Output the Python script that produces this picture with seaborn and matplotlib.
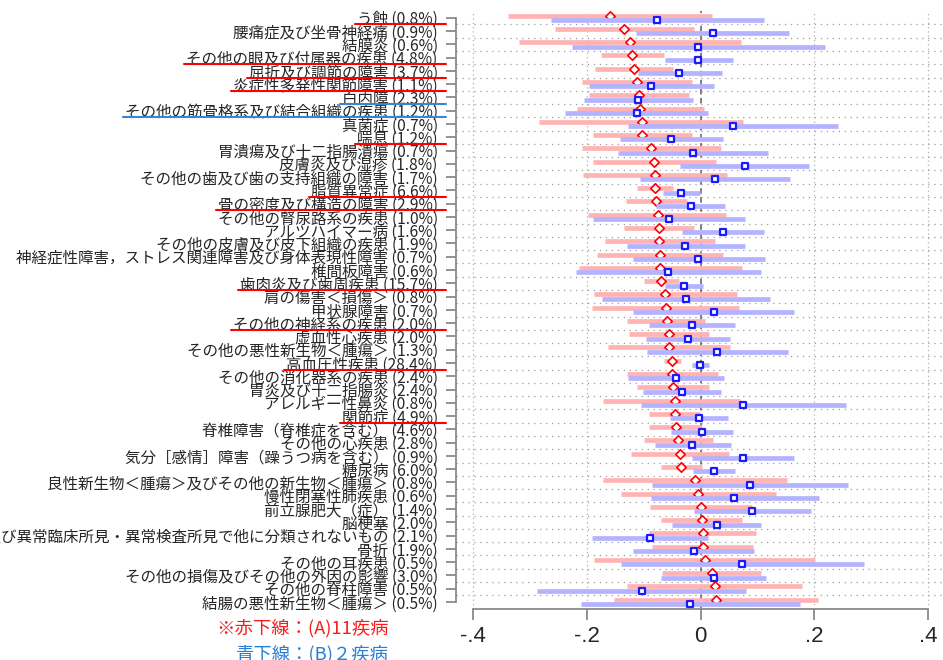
import numpy as np
import pandas as pd
import matplotlib
matplotlib.use("Agg")
import matplotlib.pyplot as plt
import seaborn as sns
from matplotlib.lines import Line2D

# 疾病名と割合
labels = ["う蝕", "腰痛症及び坐骨神経痛", "結膜炎", "その他の眼及び付属器の疾患", "屈折及び調節の障害",
          "炎症性多発性関節障害", "白内障", "その他の筋骨格系及び結合組織の疾患", "真菌症", "喘息",
          "胃潰瘍及び十二指腸潰瘍", "皮膚炎及び湿疹", "その他の歯及び歯の支持組織の障害", "脂質異常症",
          "骨の密度及び構造の障害", "その他の腎尿路系の疾患", "アルツハイマー病", "その他の皮膚及び皮下組織の疾患",
          "神経症性障害，ストレス関連障害及び身体表現性障害", "椎間板障害", "歯肉炎及び歯周疾患",
          "肩の傷害＜損傷＞", "甲状腺障害", "その他の神経系の疾患", "虚血性心疾患", "その他の悪性新生物＜腫瘍＞",
          "高血圧性疾患", "その他の消化器系の疾患", "胃炎及び十二指腸炎", "アレルギー性鼻炎", "関節症",
          "脊椎障害（脊椎症を含む）", "その他の心疾患", "気分［感情］障害（躁うつ病を含む）", "糖尿病",
          "良性新生物＜腫瘍＞及びその他の新生物＜腫瘍＞", "慢性閉塞性肺疾患", "前立腺肥大（症）", "脳梗塞",
          "症状，徴候及び異常臨床所見・異常検査所見で他に分類されないもの", "骨折", "その他の耳疾患",
          "その他の損傷及びその他の外因の影響", "その他の脊柱障害", "結腸の悪性新生物＜腫瘍＞"]
shares = ["0.8%", "0.9%", "0.6%", "4.8%", "3.7%", "1.1%", "2.3%", "1.2%", "0.7%", "1.2%",
          "0.7%", "1.8%", "1.7%", "6.6%", "2.9%", "1.0%", "1.6%", "1.9%", "0.7%", "0.6%",
          "15.7%", "0.8%", "0.7%", "2.0%", "2.0%", "1.3%", "28.4%", "2.4%", "2.4%", "0.8%",
          "4.9%", "4.6%", "2.8%", "0.9%", "6.0%", "0.8%", "0.6%", "1.4%", "2.0%", "2.1%",
          "1.9%", "0.5%", "3.0%", "0.5%", "0.5%"]

# (A) 赤
red_pt = [-0.159, -0.135, -0.124, -0.121, -0.117, -0.112, -0.108, -0.106, -0.104, -0.103,
          -0.088, -0.082, -0.081, -0.081, -0.079, -0.076, -0.074, -0.073, -0.072, -0.072,
          -0.070, -0.062, -0.061, -0.060, -0.056, -0.056, -0.050, -0.050, -0.049, -0.046,
          -0.045, -0.043, -0.040, -0.036, -0.035, -0.010, -0.005, 0.000, 0.002, 0.004,
          0.004, 0.007, 0.019, 0.025, 0.026]
red_lo = [-0.339, -0.256, -0.319, -0.175, -0.186, -0.209, -0.196, -0.217, -0.284, -0.189,
          -0.209, -0.189, -0.207, -0.112, -0.131, -0.198, -0.135, -0.168, -0.182, -0.214,
          -0.100, -0.187, -0.191, -0.129, -0.126, -0.163, -0.064, -0.129, -0.112, -0.172,
          -0.091, -0.091, -0.100, -0.122, -0.070, -0.172, -0.140, -0.089, -0.070, -0.091,
          -0.086, -0.187, -0.068, -0.129, -0.152]
red_hi = [0.019, -0.012, 0.071, -0.064, -0.049, -0.015, -0.021, 0.006, 0.074, -0.015,
          0.036, 0.027, 0.046, -0.049, -0.024, 0.045, -0.012, 0.025, 0.039, 0.073,
          -0.038, 0.064, 0.067, 0.008, 0.015, 0.052, -0.035, 0.031, 0.015, 0.069,
          -0.001, 0.002, 0.022, 0.050, 0.002, 0.152, 0.132, 0.090, 0.073, 0.097,
          0.092, 0.201, 0.106, 0.178, 0.206]

# (B) 青
blue_pt = [-0.077, 0.021, -0.005, -0.004, -0.038, -0.087, -0.110, -0.112, 0.056, -0.052,
           -0.014, 0.078, 0.025, -0.035, -0.018, -0.056, 0.039, -0.027, -0.004, -0.057,
           -0.029, -0.026, 0.023, -0.016, -0.022, 0.029, -0.001, -0.044, -0.033, 0.074,
           -0.003, 0.003, -0.015, 0.074, 0.023, 0.087, 0.059, 0.091, 0.028, -0.089,
           -0.012, 0.073, 0.023, -0.104, -0.019]
blue_lo = [-0.263, -0.114, -0.226, -0.063, -0.110, -0.196, -0.205, -0.238, -0.128, -0.142,
           -0.145, -0.036, -0.107, -0.066, -0.079, -0.189, -0.033, -0.129, -0.119, -0.219,
           -0.063, -0.173, -0.119, -0.091, -0.096, -0.094, -0.015, -0.128, -0.101, -0.105,
           -0.054, -0.052, -0.080, -0.015, -0.014, -0.086, -0.087, -0.012, -0.050, -0.191,
           -0.119, -0.140, -0.070, -0.288, -0.210]
blue_hi = [0.111, 0.155, 0.218, 0.057, 0.038, 0.023, -0.014, 0.013, 0.241, 0.039,
           0.118, 0.190, 0.157, -0.001, 0.043, 0.078, 0.111, 0.078, 0.113, 0.106,
           0.004, 0.122, 0.164, 0.060, 0.052, 0.153, 0.015, 0.041, 0.036, 0.255,
           0.048, 0.057, 0.053, 0.164, 0.060, 0.259, 0.208, 0.194, 0.106, 0.013,
           0.094, 0.287, 0.115, 0.080, 0.175]

red_rows = [0, 3, 4, 5, 9, 13, 14, 20, 23, 26, 30]
blue_rows = [6, 7]

sns.set_style("white")
plt.rcParams['font.family'] = ['Noto Sans CJK JP', 'DejaVu Sans']
plt.rcParams['lines.scale_dashes'] = False

n = len(labels)
pos = np.arange(n)
df = pd.DataFrame({"pos": pos, "red_pt": red_pt, "red_lo": red_lo, "red_hi": red_hi,
                   "blue_pt": blue_pt, "blue_lo": blue_lo, "blue_hi": blue_hi})
off = 0.166

fig = plt.figure(figsize=(9.43, 6.6), dpi=100)
ax = fig.add_axes([456 / 943, 1 - 609 / 660, 1 - 456 / 943, (609 - 11) / 660])

# グリッド
for y in pos[:-1] + 0.5:
    ax.axhline(y, color='#9a9a9a', lw=0.9, ls=(0, (0.9, 3.4)), zorder=0.5)
for x in [-0.4, -0.2, 0.2, 0.4]:
    ax.axvline(x, color='#b0b0b0', lw=0.9, ls=(0, (0.9, 2.2)), zorder=0.5)
ax.axvline(0, color='#808080', lw=1.4, ls=(0, (4, 2.5)), zorder=0.6)

# 信頼区間と点推定
ax.hlines(df["pos"] - off, df["red_lo"], df["red_hi"], color='#ffb3b3', lw=3.4, zorder=2)
sns.scatterplot(x=df["red_pt"], y=df["pos"] - off, marker='D', s=23, color='white',
                edgecolor='#ff0000', linewidth=1.2, ax=ax, zorder=3)
ax.hlines(df["pos"] + off, df["blue_lo"], df["blue_hi"], color='#b3b3ff', lw=3.4, zorder=4)
sns.scatterplot(x=df["blue_pt"], y=df["pos"] + off, marker='s', s=22, color='white',
                edgecolor='#1a1aff', linewidth=1.6, ax=ax, zorder=5)

ax.set_xlim(-0.4304, 0.426)
ax.set_ylim(44.53, -0.51)
ax.set_xlabel("")
ax.set_ylabel("")

ax.set_yticks(pos)
ax.set_yticklabels([f"{l} ({s})" for l, s in zip(labels, shares)], fontsize=11.2)
ax.set_xticks([-0.4, -0.2, 0, 0.2, 0.4])
ax.set_xticklabels(["-.4", "-.2", "0", ".2", ".4"], fontsize=16, family='Liberation Sans')

ax.tick_params(axis='y', direction='out', length=7.2, width=1.3, color='#8a8a8a', pad=6, left=True)
ax.tick_params(axis='x', direction='out', length=8, width=1.3, color='#8a8a8a', pad=4, bottom=True)
for s in ['top', 'right']:
    ax.spines[s].set_visible(False)
ax.spines['left'].set_bounds(0, n - 1)
ax.spines['bottom'].set_bounds(-0.4, 0.4)
for s in ['left', 'bottom']:
    ax.spines[s].set_color('#8a8a8a')
    ax.spines[s].set_linewidth(1.3)

# 下線
fig.canvas.draw()
renderer = fig.canvas.get_renderer()
ticklabels = ax.get_yticklabels()
inv = fig.transFigure.inverted()
for rows, col in [(red_rows, '#ff0000'), (blue_rows, '#3a86cc')]:
    for i in rows:
        bb = ticklabels[i].get_window_extent(renderer)
        y = ax.transData.transform((0, i + 0.5))[1]
        (x0, y0), (x1, y1) = inv.transform([(bb.x0 - 2, y), (446, y)])
        fig.add_artist(Line2D([x0, x1], [y0, y1], color=col, lw=1.5))

fig.text(389 / 943, 1 - 628 / 660, "※赤下線：(A)11疾病", ha='right', va='center',
         color='#ff1a1a', fontsize=13.2)
fig.text(389 / 943, 1 - 654 / 660, "青下線：(B)２疾病", ha='right', va='center',
         color='#2a7fd4', fontsize=13.2)

fig.savefig("out.png", dpi=100)
